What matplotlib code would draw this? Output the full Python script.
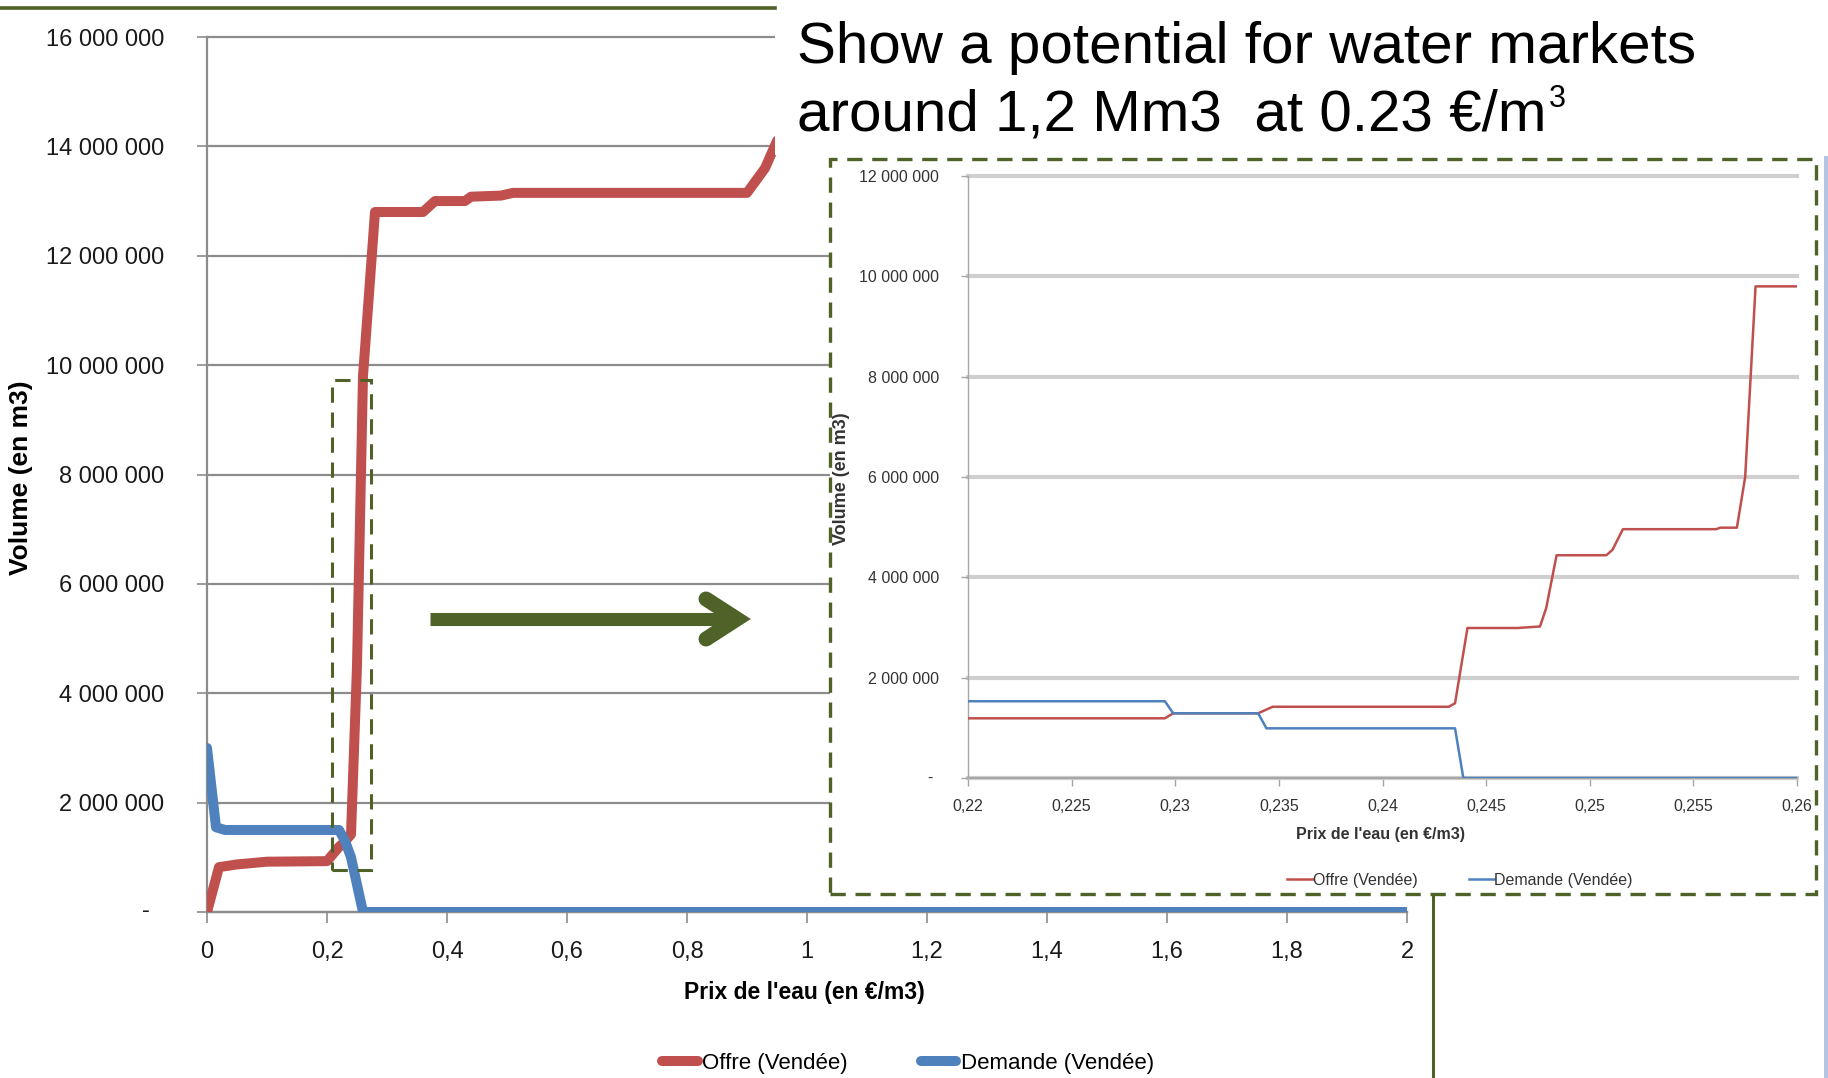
import matplotlib
matplotlib.use("Agg")
import matplotlib.pyplot as plt
from matplotlib.lines import Line2D
from matplotlib.patches import Rectangle
from matplotlib.ticker import FixedLocator, FuncFormatter

plt.rcParams["lines.scale_dashes"] = False

W, H = 1828, 1078

# Courbes d'offre et de demande, Vendée (prix en EUR/m3, volume en m3)
prix_offre = [0, 0.02, 0.05, 0.1, 0.2, 0.22, 0.23, 0.24, 0.25, 0.26, 0.28,
              0.36, 0.38, 0.43, 0.44, 0.49, 0.51, 0.9, 0.93, 0.95, 1.0]
vol_offre = [0, 820000, 870000, 920000, 930000, 1190000, 1290000, 1420000,
             4500000, 9800000, 12800000, 12800000, 13000000, 13000000,
             13080000, 13100000, 13150000, 13150000, 13600000, 14100000,
             14600000]
prix_demande = [0, 0.015, 0.03, 0.22, 0.23, 0.24, 0.26, 2.0]
vol_demande = [3000000, 1550000, 1500000, 1500000, 1300000, 1000000, 0, 0]

# Zoom autour du point d'équilibre
zoom_prix_offre = [0.22, 0.2295, 0.2299, 0.2340, 0.2347, 0.2432, 0.2435,
                   0.2441, 0.2465, 0.2476, 0.2479, 0.2484, 0.2508, 0.2511,
                   0.2516, 0.2561, 0.2563, 0.2571, 0.2575, 0.2580, 0.26]
zoom_vol_offre = [1190000, 1190000, 1290000, 1290000, 1420000, 1420000,
                  1490000, 2990000, 2990000, 3020000, 3390000, 4440000,
                  4440000, 4550000, 4960000, 4960000, 4990000, 4990000,
                  6000000, 9800000, 9800000]
zoom_prix_demande = [0.22, 0.2295, 0.2299, 0.2340, 0.2344, 0.2435, 0.2439, 0.26]
zoom_vol_demande = [1530000, 1530000, 1290000, 1290000, 990000, 990000, 0, 0]

main_xticks = [0, 0.2, 0.4, 0.6, 0.8, 1.0, 1.2, 1.4, 1.6, 1.8, 2.0]
main_yticks = [0, 2e6, 4e6, 6e6, 8e6, 10e6, 12e6, 14e6, 16e6]
zoom_xticks = [0.22, 0.225, 0.23, 0.235, 0.24, 0.245, 0.25, 0.255, 0.26]
zoom_yticks = [0, 2e6, 4e6, 6e6, 8e6, 10e6, 12e6]

titre_1 = "Show a potential for water markets"
titre_2 = "around 1,2 Mm3  at 0.23 €/m"

RED = "#C0504D"
BLUE = "#4F81BD"
GREEN = "#4F6228"
SANS = ["Liberation Sans", "DejaVu Sans"]
plt.rcParams["font.family"] = SANS


def fx(x):
    return x / W


def fy(y):
    return 1 - y / H


def vol_fmt(v, pos):
    if v == 0:
        return ""
    return f"{v:,.0f}".replace(",", " ")


def prix_fmt(v, pos):
    return f"{v:.3f}".rstrip("0").rstrip(".").replace(".", ",")


fig = plt.figure(figsize=(W / 100, H / 100), dpi=100)

# --- graphique principal ---
ax = fig.add_axes([fx(207), fy(912), (1407 - 207) / W, (912 - 37) / H], zorder=0)
ax.plot(prix_offre, vol_offre, color=RED, lw=7.2, solid_capstyle="round",
        solid_joinstyle="round", label="Offre (Vendée)", zorder=3)
ax.plot(prix_demande, vol_demande, color=BLUE, lw=7.2, solid_capstyle="round",
        solid_joinstyle="round", label="Demande (Vendée)", zorder=4)
ax.set_xlim(0, 2)
ax.set_ylim(0, 16e6)
ax.xaxis.set_major_locator(FixedLocator(main_xticks))
ax.yaxis.set_major_locator(FixedLocator(main_yticks))
ax.xaxis.set_major_formatter(FuncFormatter(prix_fmt))
ax.yaxis.set_major_formatter(FuncFormatter(vol_fmt))
ax.grid(axis="y", color="#8C8C8C", lw=1.6)
for gl in ax.get_ygridlines():
    gl.set_clip_on(False)
ax.set_axisbelow(True)
for s in ["top", "right"]:
    ax.spines[s].set_visible(False)
for s in ["left", "bottom"]:
    ax.spines[s].set_color("#8C8C8C")
    ax.spines[s].set_linewidth(1.6)
ax.tick_params(axis="y", length=7, width=1.2, color="#8C8C8C", pad=24,
               labelsize=17, labelcolor="#1A1A1A")
ax.tick_params(axis="x", length=8, width=1.2, color="#8C8C8C", pad=13,
               labelsize=17, labelcolor="#1A1A1A")
fig.text(fx(146), fy(911), "-", ha="center", va="center", fontsize=17,
         color="#1A1A1A")

# cadre du zoom sur le graphique principal
ax.add_patch(Rectangle((0.2085, 770000), 0.274 - 0.2085, 9730000 - 770000,
                       fill=False, edgecolor=GREEN, lw=2.2,
                       linestyle=(0, (11, 7)), zorder=5))

fig.text(fx(21), fy(478), "Volume (en m3)", rotation=90, ha="center",
         va="center", fontsize=19, fontweight="bold")
fig.text(fx(804), fy(993), "Prix de l'eau (en €/m3)", ha="center",
         va="center", fontsize=16.5, fontweight="bold")
ax.legend(loc="center", bbox_to_anchor=(fx(908), fy(1063)),
          bbox_transform=fig.transFigure, ncol=2, frameon=False,
          handlelength=1.6, handletextpad=0.2, columnspacing=3.3,
          prop={"size": 16}, borderaxespad=0)

# filet vert en haut
fig.add_artist(Line2D([0, fx(775)], [fy(8), fy(8)], color=GREEN, lw=2.6,
                      transform=fig.transFigure))

# --- titre ---
fig.add_artist(Rectangle((fx(775), fy(155)), 1 - fx(775), 155 / H,
                         transform=fig.transFigure, facecolor="white",
                         edgecolor="none", zorder=1))
fig.text(fx(797), fy(63), titre_1, ha="left", va="baseline", fontsize=42,
         zorder=2)
t2 = fig.text(fx(797), fy(130), titre_2, ha="left", va="baseline",
              fontsize=42, zorder=2)
renderer = fig.canvas.get_renderer()
x_end = t2.get_window_extent(renderer).x1
fig.text(x_end / W + 2 / W, fy(107), "3", ha="left", va="baseline",
         fontsize=22, zorder=2)

# --- flèche ---
fig.add_artist(Line2D([fx(430), fx(737)], [fy(619), fy(619)], color=GREEN,
                      lw=9.4, solid_capstyle="butt", transform=fig.transFigure,
                      zorder=2))
fig.add_artist(Line2D([fx(706), fx(737), fx(706)], [fy(599), fy(619), fy(639)],
                      color=GREEN, lw=10.8, solid_capstyle="round",
                      solid_joinstyle="miter", transform=fig.transFigure,
                      zorder=2))

# --- encart zoom ---
fig.add_artist(Rectangle((fx(830), fy(894)), (1816 - 830) / W, (894 - 159) / H,
                         transform=fig.transFigure, facecolor="white",
                         edgecolor="none", zorder=2))
axz = fig.add_axes([fx(968), fy(778), (1797 - 968) / W, (778 - 176) / H],
                   zorder=3)
axz.patch.set_alpha(0)
axz.plot(zoom_prix_offre, zoom_vol_offre, color=RED, lw=1.8,
         label="Offre (Vendée)", zorder=3)
axz.plot(zoom_prix_demande, zoom_vol_demande, color=BLUE, lw=1.8,
         label="Demande (Vendée)", zorder=4)
axz.set_xlim(0.22, 0.26)
axz.set_ylim(0, 12e6)
axz.xaxis.set_major_locator(FixedLocator(zoom_xticks))
axz.yaxis.set_major_locator(FixedLocator(zoom_yticks))
axz.xaxis.set_major_formatter(FuncFormatter(prix_fmt))
axz.yaxis.set_major_formatter(FuncFormatter(vol_fmt))
axz.grid(axis="y", color="#CFCFCF", lw=3)
for gl in axz.get_ygridlines():
    gl.set_clip_on(False)
axz.set_axisbelow(True)
for s in ["top", "right"]:
    axz.spines[s].set_visible(False)
axz.spines["left"].set_color("#A6A6A6")
axz.spines["left"].set_linewidth(1)
axz.spines["bottom"].set_color("#A6A6A6")
axz.spines["bottom"].set_linewidth(1.5)
axz.tick_params(axis="y", length=5, width=1, color="#A6A6A6", pad=16,
                labelsize=11.5, labelcolor="#333333")
axz.tick_params(axis="x", length=6, width=1, color="#A6A6A6", pad=9,
                labelsize=11.5, labelcolor="#333333")
fig.text(fx(930), fy(778), "-", ha="center", va="center", fontsize=11.5,
         color="#333333", zorder=4)
fig.text(fx(842), fy(479), "Volume (en m3)", rotation=90, ha="center",
         va="center", fontsize=13, fontweight="bold", color="#333333",
         zorder=4)
fig.text(fx(1381), fy(834), "Prix de l'eau (en €/m3)", ha="center",
         va="center", fontsize=11.5, fontweight="bold", color="#333333",
         zorder=4)
axz.legend(loc="center", bbox_to_anchor=(fx(1460), fy(880)),
           bbox_transform=fig.transFigure, ncol=2, frameon=False,
           handlelength=1.6, handletextpad=0.0, columnspacing=3.2,
           prop={"size": 11.5}, borderaxespad=0, labelcolor="#333333")

# cadre pointillé de l'encart
fig.add_artist(Rectangle((fx(830), fy(894)), (1816 - 830) / W, (894 - 159) / H,
                         transform=fig.transFigure, fill=False,
                         edgecolor=GREEN, lw=2.4, linestyle=(0, (11, 7)),
                         zorder=5))

# filets de la diapositive
fig.add_artist(Line2D([fx(1433), fx(1433)], [fy(894), 0], color=GREEN,
                      lw=2.2, transform=fig.transFigure, zorder=5))
fig.add_artist(Line2D([fx(1825.5), fx(1825.5)], [fy(158), 0], color="#B4C4E4",
                      lw=3.6, transform=fig.transFigure, zorder=5))

fig.savefig("out.png", dpi=100)
